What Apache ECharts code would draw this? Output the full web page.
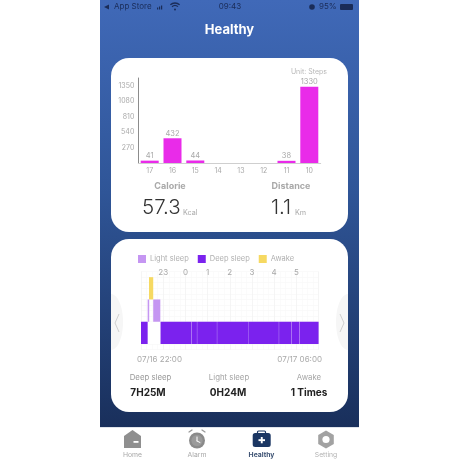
<!DOCTYPE html>
<html><head><meta charset="utf-8">
<style>html,body{margin:0;padding:0;background:#fff}#c{width:460px;height:460px}</style>
<script src="https://cdn.jsdelivr.net/npm/echarts@6/dist/echarts.min.js"></script>
</head><body><div id="c"></div>
<script>
const dayLabels = ['17','16','15','14','13','12','11','10'];
const stepValues = [41,432,44,0,0,0,38,1330];
const lightSleep = [[22.30,22.37],[22.55,22.87]];
const awake = [[22.36,22.55]];
const sleepGap = [[22.30,22.88]];
const deepSleep = [[22.0,22.30],[22.88,24.27],[24.28,24.52],[24.53,25.42],[25.43,26.82],[26.83,28.21],[28.22,28.77],[28.78,29.14],[29.15,30.0]];
const hourTicks = [22,23,24,25,26,27,28,29,30];

const FF = 'Inter, "Noto Sans", sans-serif';
const gray = '#a9a9a9';
function txt(x,y,text,size,fill,weight,align){
  return {type:'text',z:1,silent:true,style:{x,y,text,fill,textAlign:align||'center',textVerticalAlign:'middle',font:(weight||400)+' '+size+'px '+FF}};
}
function rect(x,y,w,h,fill,r,extra){
  return Object.assign({type:'rect',z:0,silent:true,shape:{x,y,width:w,height:h,r:r||0},style:{fill}},extra||{});
}
function poly(points,fill){return {type:'polygon',z:0,silent:true,shape:{points},style:{fill}};}
function circ(cx,cy,r,fill){return {type:'circle',z:0,silent:true,shape:{cx,cy,r},style:{fill}};}
function line(x1,y1,x2,y2,stroke,w){return {type:'line',z:0,silent:true,shape:{x1,y1,x2,y2},style:{stroke,lineWidth:w||1,lineCap:'round'}};}
function arc(cx,cy,r,a,b,stroke,w){return {type:'arc',z:0,silent:true,shape:{cx,cy,r,startAngle:a,endAngle:b},style:{stroke,fill:'none',lineWidth:w}};}
function hex(cx,cy,r,fill){const p=[];for(let i=0;i<6;i++){const t=Math.PI/6+i*Math.PI/3;p.push([cx+r*Math.cos(t),cy+r*Math.sin(t)]);}return poly(p,fill);}
function bump(cx,cy,rx,ry,dir){const p=[];for(let i=0;i<=24;i++){const t=-Math.PI/2+i*Math.PI/24;p.push([cx+dir*rx*Math.cos(t),cy+ry*Math.sin(t)]);}return poly(p,'#f6f6f6');}

const graphics = [
  rect(100,0,259,428,{type:'linear',x:0,y:0,x2:0,y2:1,colorStops:[{offset:0,color:'#4069b8'},{offset:0.45,color:'#2f5597'},{offset:1,color:'#192f5b'}]}),
  rect(100,427,259,33,'#ffffff'),
  rect(111,58,237,174,'#ffffff',18),
  rect(111,239,237,173,'#ffffff',18),
  // status bar
  poly([[104,7],[109,4.5],[109,9.5]],'#1a2c58'),
  txt(114,7,'App Store',8,'#1a2c58',400,'left'),
  rect(157,7.5,1.2,2,'#1a2c58'),rect(159,6.5,1.2,3,'#1a2c58'),rect(161,5.5,1.2,4,'#1a2c58'),
  arc(175,10,7,-2.3,-0.85,'#1a2c58',1.3),arc(175,10,4.5,-2.3,-0.85,'#1a2c58',1.3),circ(175,9.5,1,'#1a2c58'),
  txt(230,7,'09:43',8,'#1a2c58',400),
  circ(312,7,2.8,'#1a2c58'),
  txt(319,7,'95%',8,'#1a2c58',400,'left'),
  rect(340,4,13,6,'#1a2c58',1),
  txt(229.5,30.5,'Healthy',13,'#ffffff',700),
  // card 1 text
  txt(327,71.5,'Unit: Steps',7,'#b8b8b8',400,'right'),
  txt(170,186,'Calorie',9,gray,700),
  txt(291,186,'Distance',9,gray,700),
  txt(142,207.5,'57.3',20.5,'#333333',300,'left'),
  txt(183,212.5,'Kcal',7.2,gray,400,'left'),
  txt(271,207.5,'1.1',20.5,'#333333',300,'left'),
  txt(295,212.5,'Km',7.2,gray,400,'left'),
  // arrows
  bump(111,322,12,28,1),
  bump(348,322,12,28,-1),
  {type:'polyline',z:0,silent:true,shape:{points:[[119,314],[115,323],[119,332]]},style:{stroke:'#cfcfcf',fill:'none',lineWidth:1}},
  {type:'polyline',z:0,silent:true,shape:{points:[[340,314],[344,323],[340,332]]},style:{stroke:'#cfcfcf',fill:'none',lineWidth:1}},
  // card 2 text
  txt(137,360,'07/16 22:00',8,gray,400,'left'),
  txt(322,360,'07/17 06:00',8,gray,400,'right'),
  txt(150.5,378,'Deep sleep',7.8,'#999999',400),
  txt(229,378,'Light sleep',7.8,'#a5a5a5',400),
  txt(309,378,'Awake',7.8,'#a5a5a5',400),
  txt(148,392.5,'7H25M',10,'#222222',700),
  txt(228,392.5,'0H24M',10,'#222222',700),
  txt(309,392.5,'1 Times',10,'#222222',700),
  // tab bar
  poly([[132.5,430],[141,436],[141,448],[124,448],[124,436]],'#8f8f8f'),
  rect(133.5,441,5,1.8,'#ffffff'),
  txt(132.5,454.5,'Home',6.8,'#a8a8a8'),
  circ(197,440.5,8,'#8a8a8a'),circ(197,440.5,5.6,'#9a9a9a'),
  line(197,437,197,441,'#ffffff',1),line(197,441,200,442.5,'#ffffff',1),
  line(189,432,192,430,'#999999',1.3),line(205,432,202,430,'#999999',1.3),
  txt(197,454.5,'Alarm',6.8,'#a8a8a8'),
  rect(252.7,433,18,14,'#1b3663',2.5),
  rect(257.5,431,8,3,'none',1,{style:{fill:'none',stroke:'#1b3663',lineWidth:1.2}}),
  rect(258.5,439.2,6.5,1.9,'#ffffff'),rect(260.8,437,1.9,6.3,'#ffffff'),
  txt(261.5,454.5,'Healthy',6.8,'#3c5172',700),
  hex(326,439.5,9,'#a2a2a2'),circ(326,439.5,3.6,'#ffffff'),
  txt(326,454.5,'Setting',6.8,'#b3b3b3'),
  rect(100,427,259,1,'#dfe3ea')
];

function barsRender(rowIndex){
  return function(params,api){
    const a = api.coord([api.value(0),rowIndex+1]);
    const b = api.coord([api.value(1),rowIndex]);
    return {type:'rect',shape:{x:a[0],y:a[1],width:b[0]-a[0],height:b[1]-a[1]},style:api.style()};
  };
}
function sleepSeries(name,data,row,color,z){
  return {name,type:'custom',xAxisIndex:1,yAxisIndex:1,renderItem:barsRender(row),encode:{x:[0,1]},data,itemStyle:{color},z,clip:false,animation:false};
}

const chart = echarts.init(document.getElementById('c'),null,{renderer:'canvas'});
chart.setOption({
  animation:false,
  textStyle:{fontFamily:FF},
  graphic:{elements:graphics},
  legend:{left:138,top:255,padding:0,itemWidth:8,itemHeight:8,itemGap:9,icon:'rect',selectedMode:false,
    textStyle:{color:'#b0b0b0',fontSize:7.5,fontFamily:FF,padding:[0,0,0,-1]},
    data:['Light sleep','Deep sleep','Awake']},
  grid:[
    {left:138.3,width:182.4,top:78,height:85},
    {left:141,width:177.6,top:271.6,height:78,show:true,backgroundColor:'#fff',borderWidth:0,shadowColor:'rgba(0,0,0,0.10)',shadowBlur:8,shadowOffsetY:2}
  ],
  xAxis:[
    {type:'category',gridIndex:0,data:dayLabels,axisTick:{show:false},
      axisLine:{lineStyle:{color:'#cfcfcf',width:1}},
      axisLabel:{color:gray,fontSize:7,margin:4.5,interval:0}},
    {type:'value',gridIndex:1,position:'top',min:hourTicks[0],max:hourTicks[hourTicks.length-1],interval:1,
      axisLine:{show:false},axisTick:{show:false},
      splitLine:{show:true,lineStyle:{color:'#f3f3f3',width:0.8}},
      minorTick:{show:false,splitNumber:4},minorSplitLine:{show:true,lineStyle:{color:'#f8f8f8',width:0.6}},
      axisLabel:{color:'#a8a8a8',fontSize:8,margin:-5,showMinLabel:false,showMaxLabel:false,
        formatter:v=>String(v%24)}}
  ],
  yAxis:[
    {type:'value',gridIndex:0,min:0,max:1485,interval:270,
      axisLine:{show:true,lineStyle:{color:'#8c8c8c',width:1}},axisTick:{show:false},splitLine:{show:false},
      axisLabel:{color:gray,fontSize:7,margin:4,showMinLabel:false,showMaxLabel:false,formatter:v=>String(v)}},
    {type:'value',gridIndex:1,min:-0.25,max:3.25,interval:0.25,
      axisLine:{show:false},axisTick:{show:false},axisLabel:{show:false},
      splitLine:{show:true,lineStyle:{color:'#f7f7f7',width:0.6}}}
  ],
  series:[
    {type:'bar',name:'Steps',xAxisIndex:0,yAxisIndex:0,data:stepValues,barWidth:18,
      itemStyle:{color:'#e92be9'},
      label:{show:true,position:'top',distance:1,color:gray,fontSize:7.5,
        formatter:p=>p.value>0?String(p.value):''}},
    sleepSeries('Sleep gap',sleepGap,0,'#ffffff',2),
    sleepSeries('Deep sleep',deepSleep,0,'#7b22ee',3),
    sleepSeries('Light sleep',lightSleep,1,'#c596f2',3),
    sleepSeries('Awake',awake,2,'#f6d962',3)
  ]
});
</script></body></html>
